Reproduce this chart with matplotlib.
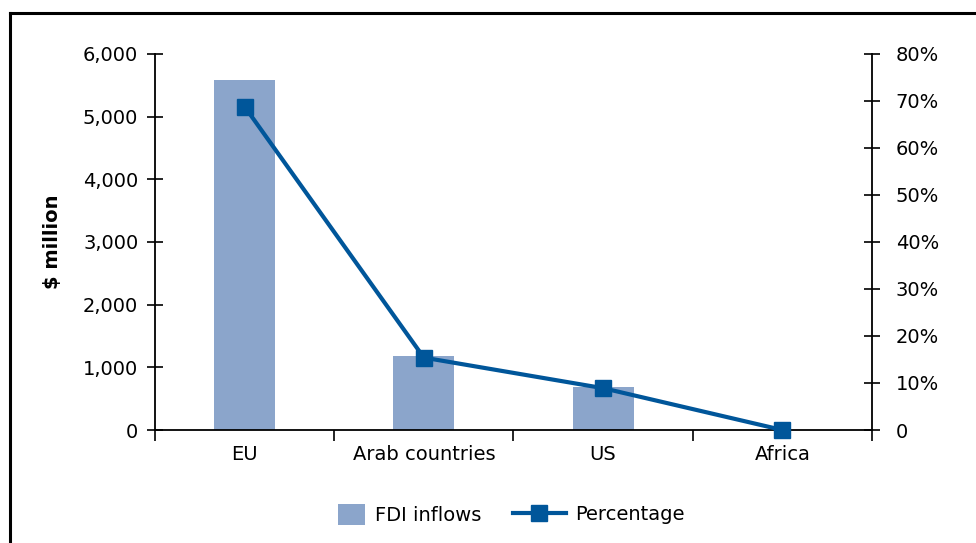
import matplotlib.pyplot as plt
from matplotlib.lines import Line2D
from matplotlib.ticker import FuncFormatter

# values
regions = ["EU", "Arab countries", "US", "Africa"]
fdi_inflows = [5580, 1180, 680, 5]          # $ million
percentage = [68.8, 15.4, 8.9, 0.0]         # share of total, %

bar_color = "#8ba5cb"
line_color = "#00569a"

plt.rcParams["font.family"] = ["DejaVu Sans"]
plt.rcParams["font.size"] = 14

fig = plt.figure(figsize=(9.76, 5.43), dpi=100)
ax = fig.add_axes([0.1588, 0.2081, 0.7346, 0.6925])
ax2 = ax.twinx()

x = list(range(len(regions)))

# FDI inflows as bars on the left axis
bars = ax.bar(x, fdi_inflows, width=0.34, color=bar_color, label="FDI inflows", zorder=2)
ax.set_xlim(-0.5, len(regions) - 0.5)
ax.set_ylim(0, 6000)
ax.set_yticks(range(0, 6001, 1000))
ax.yaxis.set_major_formatter(FuncFormatter(lambda v, p: f"{int(v):,}"))
ax.set_ylabel("$ million", fontweight="bold", fontsize=14, labelpad=15)

# category labels centred, ticks at category boundaries
ax.set_xticks([i - 0.5 for i in range(len(regions) + 1)])
ax.set_xticklabels([])
ax.set_xticks(x, minor=True)
ax.set_xticklabels(regions, minor=True)
ax.tick_params(axis="x", which="minor", length=0, pad=11)
ax.tick_params(axis="x", which="major", direction="out", length=8, width=1.2)
ax.tick_params(axis="y", direction="inout", length=12, width=1.2, pad=6)

# percentage line on the right axis
line, = ax2.plot(x, percentage, color=line_color, lw=3, marker="s", markersize=12,
                 label="Percentage", zorder=3, clip_on=False)
ax2.set_ylim(0, 80)
ax2.set_yticks(range(0, 81, 10))
ax2.yaxis.set_major_formatter(FuncFormatter(lambda v, p: "0" if v == 0 else f"{int(v)}%"))
ax2.tick_params(axis="y", direction="inout", length=12, width=1.2, pad=11)

for a in (ax, ax2):
    a.spines["top"].set_visible(False)
    for s in ("left", "right", "bottom"):
        a.spines[s].set_linewidth(1.3)
ax.spines["right"].set_visible(False)
ax2.spines["left"].set_visible(False)
ax2.spines["bottom"].set_visible(False)

# two single-entry legends so the swatch can be square and the line handle long
fig.legend([bars], ["FDI inflows"], loc="center left", bbox_to_anchor=(338 / 976, 0.052),
           frameon=False, fontsize=14, handlelength=1.4, handleheight=1.25,
           handletextpad=0.5, borderpad=0, borderaxespad=0)
fig.legend([line], ["Percentage"], loc="center left", bbox_to_anchor=(513 / 976, 0.052),
           frameon=False, fontsize=14, handlelength=2.7,
           handletextpad=0.5, borderpad=0, borderaxespad=0)

# outer frame (only top and left edges show in the reference)
fig.add_artist(Line2D([0.0103, 0.0103], [0, 0.976], color="black", lw=2.2, transform=fig.transFigure))
fig.add_artist(Line2D([0.0103, 1.0], [0.976, 0.976], color="black", lw=2.2, transform=fig.transFigure))

fig.savefig("out.png", dpi=100)
